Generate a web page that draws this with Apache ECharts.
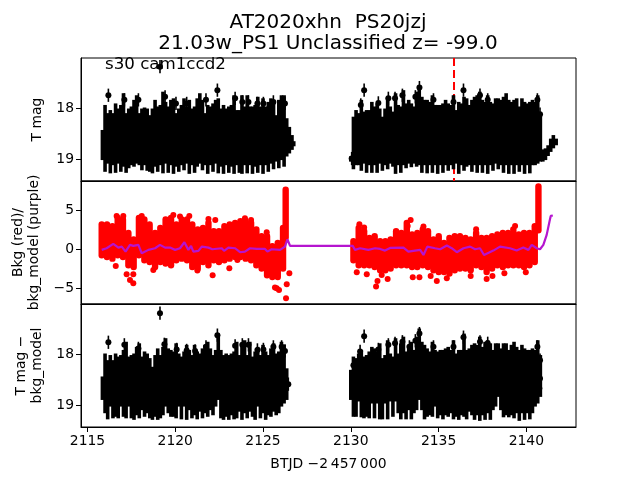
<!DOCTYPE html>
<html><head><meta charset="utf-8">
<style>html,body{margin:0;padding:0;background:#fff}#c{width:640px;height:480px}</style>
<script src="https://cdn.jsdelivr.net/npm/echarts@6/dist/echarts.min.js"></script>
</head><body><div id="c"></div>
<script>
const titleText = "AT2020xhn  PS20jzj\n21.03w_PS1 Unclassified z= -99.0";
const noteText = "s30 cam1ccd2";
const xLabel = "BTJD \u22122\u2009457\u2009000";
const xTicks = [2115,2120,2125,2130,2135,2140];
const magTicks = [18,19];
const bkgTicks = [5,0,-5];
const markerTime = 2135.88;

const timesA = [2115.85,2116,2116.15,2116.3,2116.45,2116.6,2116.75,2116.9,2117.05,2117.2,2117.35,2117.5,2117.65,2117.8,2117.95,2118.1,2118.25,2118.4,2118.55,2118.7,2118.85,2119,2119.15,2119.3,2119.45,2119.6,2119.75,2119.9,2120.05,2120.2,2120.35,2120.5,2120.65,2120.8,2120.95,2121.1,2121.25,2121.4,2121.55,2121.7,2121.85,2122,2122.15,2122.3,2122.45,2122.6,2122.75,2122.9,2123.05,2123.2,2123.35,2123.5,2123.65,2123.8,2123.95,2124.1,2124.25,2124.4,2124.55,2124.7,2124.85,2125,2125.15,2125.3,2125.45,2125.6,2125.75,2125.9,2126.05,2126.2,2126.35,2126.5,2126.65,2126.75];
const timesB = [2130,2130.15,2130.3,2130.45,2130.6,2130.75,2130.9,2131.05,2131.2,2131.35,2131.5,2131.65,2131.8,2131.95,2132.1,2132.25,2132.4,2132.55,2132.7,2132.85,2133,2133.15,2133.3,2133.45,2133.6,2133.75,2133.9,2134.05,2134.2,2134.35,2134.5,2134.65,2134.8,2134.95,2135.1,2135.25,2135.4,2135.55,2135.7,2135.85,2136,2136.15,2136.3,2136.45,2136.6,2136.75,2136.9,2137.05,2137.2,2137.35,2137.5,2137.65,2137.8,2137.95,2138.1,2138.25,2138.4,2138.55,2138.7,2138.85,2139,2139.15,2139.3,2139.45,2139.6,2139.75,2139.9,2140.05,2140.2,2140.35,2140.5,2140.65,2140.8,2140.94,2141.09,2141.24,2141.39,2141.54,2141.7];

const topHighA = [18.43,17.94,18.10,18.04,18.10,17.91,18.01,17.94,17.71,18.10,18.01,17.97,17.84,17.75,18.10,18.01,17.99,18.01,18.14,18.01,17.84,17.97,17.94,17.68,17.88,17.97,17.84,17.81,18.10,18.01,17.94,17.81,17.97,17.84,18.01,17.97,17.81,17.71,17.84,18.10,17.94,17.97,17.91,17.84,17.81,18.01,17.94,18.01,17.97,17.94,17.75,18.04,18.04,17.75,17.97,17.75,17.97,17.97,17.94,17.78,17.97,17.81,17.97,17.88,17.81,17.91,18.14,17.84,17.75,17.75,18.20,18.37,18.53,18.65];
const topLowA = [19.02,19.25,19.09,19.28,19.12,19.27,19.09,19.25,19.15,19.27,19.18,19.12,19.15,19.09,19.12,19.22,19.12,19.23,19.25,19.28,19.15,19.25,19.12,19.28,19.09,19.27,19.12,19.29,19.15,19.25,19.12,19.22,19.09,19.29,19.12,19.27,19.15,19.09,19.22,19.12,19.29,19.12,19.25,19.09,19.28,19.15,19.29,19.12,19.27,19.15,19.29,19.12,19.27,19.29,19.12,19.28,19.12,19.29,19.15,19.27,19.12,19.29,19.12,19.25,19.09,19.20,19.05,19.18,19.02,19.15,18.95,18.89,18.82,18.75];
const topHighB = [18.95,18.17,18.04,18.10,17.84,18.07,18.04,18.04,17.88,17.97,17.91,18.01,18.17,18.01,17.78,17.97,18.07,17.71,17.94,17.97,17.65,17.91,17.84,17.91,17.97,17.68,17.58,17.78,17.84,17.84,17.88,17.75,17.94,17.94,17.94,17.91,17.84,17.91,17.94,17.75,18.04,17.88,17.91,17.78,17.81,17.94,17.84,17.78,17.75,17.68,17.84,17.88,17.75,17.88,17.91,17.81,17.81,17.84,17.78,17.71,17.84,17.88,17.84,17.81,17.97,17.81,17.88,17.91,17.88,17.84,17.88,17.75,18.10,18.81,18.79,18.73,18.60,18.53,18.60];
const topLowB = [19.05,19.20,19.12,19.12,19.23,19.09,19.27,19.12,19.27,19.12,19.27,19.09,19.23,19.12,19.20,19.09,19.15,19.29,19.12,19.27,19.12,19.18,19.09,19.16,19.09,19.15,19.12,19.27,19.12,19.28,19.12,19.27,19.12,19.29,19.12,19.27,19.12,19.23,19.12,19.20,19.09,19.29,19.12,19.23,19.15,19.12,19.25,19.12,19.27,19.12,19.27,19.12,19.29,19.12,19.23,19.09,19.20,19.12,19.27,19.12,19.29,19.12,19.29,19.12,19.25,19.12,19.29,19.12,19.28,19.12,19.12,19.09,19.05,19.05,19.02,18.94,18.86,18.79,18.73];

const bottomHighA = [18.44,17.99,18.12,18.02,18.12,17.99,18.05,18.02,17.92,17.76,18.05,18.02,17.99,17.86,17.79,18.05,17.95,17.99,18.08,18.25,18.02,17.89,18.02,17.86,17.69,17.89,17.92,17.95,17.79,17.99,18.05,17.95,17.82,17.92,18.02,17.82,17.95,17.99,17.89,17.82,17.76,17.89,18.02,17.92,17.60,17.92,18.02,17.99,18.02,17.99,17.95,17.76,18.02,17.82,17.73,18.02,17.76,18.05,17.95,17.86,18.02,17.82,17.95,18.02,17.89,17.79,17.99,17.95,17.76,17.82,18.28];
const bottomLowA = [18.90,19.16,19.28,19.03,19.26,19.23,19.26,19.03,19.23,19.26,19.03,19.26,19.29,19.20,19.26,19.10,19.23,19.16,19.26,19.29,19.23,19.29,19.26,19.20,19.03,19.16,19.23,19.23,19.26,19.03,19.28,19.03,19.29,19.10,19.26,19.20,19.28,19.13,19.26,19.16,19.23,19.10,19.20,19.03,18.90,19.26,19.29,19.23,19.29,19.20,19.28,19.26,19.13,19.29,19.16,19.26,19.13,19.23,19.29,19.03,19.26,19.16,19.29,19.20,19.23,19.13,19.20,19.16,19.03,18.97,18.90];
const bottomHighB = [18.31,18.05,18.08,17.99,17.92,18.05,18.02,17.95,17.86,17.89,17.95,17.79,18.08,18.02,17.73,17.99,18.05,17.69,17.99,17.79,17.66,17.95,17.82,17.76,17.92,17.66,17.50,17.76,17.82,17.89,17.95,17.76,17.92,17.95,17.92,17.92,17.89,17.86,17.92,17.73,17.99,17.92,17.92,17.60,17.92,17.89,17.82,17.79,17.82,17.66,17.86,17.76,17.73,17.79,17.92,17.79,17.79,17.89,17.79,17.79,17.92,17.82,17.76,17.86,17.92,17.82,17.89,17.92,17.92,17.89,17.92,17.73,18.02];
const bottomLowB = [18.90,19.23,19.23,18.93,19.24,19.26,19.23,19.26,18.97,19.26,18.97,19.28,19.28,18.97,19.28,18.93,19.23,18.93,19.16,19.28,19.16,19.28,19.10,19.28,19.16,19.10,18.90,19.10,19.28,19.23,19.20,19.23,19.03,19.26,19.20,19.28,19.20,19.23,19.16,19.28,19.23,19.29,19.20,19.23,19.28,19.13,19.20,19.29,19.20,19.31,19.20,19.29,19.16,19.29,19.10,19.03,18.84,19.10,19.24,19.20,19.24,19.20,19.26,19.16,19.31,19.16,19.29,19.16,19.28,19.16,19.03,18.97,18.84];

const peakTimesTop = [2116.19,2119.13,2122.4,2117.1,2117.9,2119.42,2120.04,2120.65,2121.75,2123.41,2123.82,2124.17,2124.68,2125.02,2125.59,2126.06,2126.25,2130.76,2130.57,2131.57,2132.14,2132.52,2132.94,2133.68,2133.91,2134.71,2135.85,2136.42,2137.36,2137.8,2140.63,2140.78,2130.05];
const peakMagsTop = [17.75,17.19,17.65,17.84,17.84,17.78,17.91,17.91,17.84,17.81,17.88,17.88,17.91,17.91,17.88,17.91,17.91,17.65,17.94,17.9,17.81,17.81,17.75,17.78,17.6,17.84,17.88,17.65,17.75,17.84,17.84,18.12,18.99];
const peakTimesBottom = [2116.19,2119.13,2122.4,2117.1,2117.9,2119.38,2120.08,2120.65,2121.13,2121.75,2123.41,2123.82,2124.17,2124.68,2125.02,2125.59,2126.06,2126.25,2126.44,2130.76,2130.53,2131.57,2132.14,2132.52,2132.94,2133.34,2133.68,2133.91,2134.71,2135.85,2136.42,2137.36,2137.8,2140.63,2140.78,2130.15,2140.78,2140.74];
const peakMagsBottom = [17.77,17.2,17.63,17.82,17.89,17.81,17.91,17.93,17.94,17.86,17.84,17.82,17.82,17.92,17.91,17.86,17.86,17.94,18.59,17.65,17.95,17.91,17.82,17.79,17.76,17.86,17.74,17.6,17.86,17.86,17.67,17.76,17.79,17.86,18.12,18.22,18.48,18.67];
const peakErr = 0.13;

const bkgTimes = [2115.81,2116.11,2116.42,2116.72,2117.02,2117.33,2117.63,2117.93,2118.24,2118.54,2118.85,2119.15,2119.45,2119.76,2120.06,2120.37,2120.67,2120.97,2121.28,2121.58,2121.89,2122.19,2122.49,2122.8,2123.1,2123.41,2123.71,2124.01,2124.32,2124.62,2124.92,2125.23,2125.53,2125.84,2126.14,2126.29,
 2130.15,2130.45,2130.76,2131.06,2131.36,2131.67,2131.97,2132.27,2132.58,2132.88,2133.19,2133.49,2133.79,2134.1,2134.4,2134.71,2135.01,2135.31,2135.62,2135.92,2136.22,2136.53,2136.83,2137.14,2137.44,2137.74,2138.05,2138.35,2138.66,2138.96,2139.26,2139.57,2139.87,2140.18,2140.48,2140.69];
const bkgHigh = [3.13,3.13,2.91,3.98,3.77,2.06,1.21,3.98,3.77,3.13,2.06,2.7,3.77,3.98,3.13,3.77,3.77,3.13,2.49,2.7,3.34,2.27,2.27,2.91,3.13,3.34,3.56,3.56,3.34,2.49,1.63,1.63,0.35,0.78,2.7,7.57,
 0.99,2.7,2.27,1.42,1.63,0.99,0.99,1.21,2.27,2.06,3.34,1.85,2.06,2.49,2.27,1.21,1.63,0.78,1.42,1.63,1.63,1.42,1.21,2.06,1.42,1.42,1.63,1.85,2.06,2.06,2.49,1.85,2.06,2.06,2.91,8.0];
const bkgLow = [-0.81,-1.03,-1.24,-0.81,-1.03,-2.09,-2.31,-0.81,-1.45,-1.67,-2.31,-1.67,-1.88,-2.09,-1.45,-1.24,-1.45,-2.31,-2.52,-1.67,-2.09,-1.45,-1.67,-1.45,-1.24,-1.03,-1.03,-1.24,-1.45,-2.09,-2.52,-3.38,-3.59,-3.59,-2.52,1.5,
 -1.45,-2.09,-2.09,-2.09,-2.31,-2.74,-2.74,-2.52,-2.09,-2.09,-2.09,-2.31,-2.31,-2.09,-2.31,-2.74,-2.95,-2.95,-3.16,-2.74,-2.52,-2.52,-2.74,-2.09,-2.31,-2.95,-2.52,-2.09,-2.31,-2.09,-2.09,-2.09,-2.31,-2.09,-1.67,2.4];
const strayTimes = [2116.61,2117.23,2117.61,2117.42,2117.61,2116.66,2117.04,2118.09,2119.89,2120.27,2120.8,2121.89,2122.28,2118.75,2122.13,2123.08,2121.26,2123.54,2123.97,2124.32,2125.21,2126.5,2126.35,2126.31,2125.78,2125.91,2125.68,
 2130.34,2130.91,2131.52,2131.44,2131.76,2132.1,2133.53,2133.91,2134.55,2134.9,2135.47,2136.83,2137.74,2138.07,2138.75,2139.97,2130.49,2130.76,2133.41,2133.24,2134.14,2137.14,2139.36];
const strayBkg = [-2.18,-3.24,-3.24,-3.97,-4.4,4.23,4.23,4.23,4.36,4.15,4.23,3.85,3.72,-2.69,-3.37,-2.47,-2.77,-1.41,3.94,3.72,2.14,-3.12,-4.53,-6.32,-5.04,-5.25,-4.95,
 -2.99,-3.24,-4.1,-4.82,-3.33,-3.84,-3.63,-3.63,-3.46,-4.1,-3.76,-3.46,-3.84,-3.46,-3.12,-2.99,3.17,2.74,3.72,2.95,2.87,2.53,2.95];
const modelTimes = [2115.81,2116.09,2116.47,2116.76,2116.95,2117.17,2117.42,2117.61,2117.9,2118.09,2118.47,2118.85,2119.13,2119.42,2119.7,2119.99,2120.27,2120.52,2120.75,2120.9,2121.03,2121.32,2121.51,2121.89,2122.11,2122.65,2122.78,2123.03,2123.41,2123.69,2123.97,2124.26,2124.64,2125.11,2125.25,2125.49,2125.97,2126.25,2126.39,2126.54,
 2130.11,2130.24,2130.53,2131,2131.38,2131.67,2131.95,2132.24,2133,2133.28,2133.66,2133.95,2134.14,2134.36,2134.8,2135.09,2135.47,2135.75,2136.04,2136.42,2136.8,2137.08,2137.36,2137.59,2138.12,2138.5,2139.07,2139.45,2139.83,2140.12,2140.31,2140.59,2140.78,2140.97,2141.16,2141.32,2141.39,2141.51];
const modelVals = [-0.12,0.09,0.64,0.17,0.30,-0.34,0.52,0.39,0.52,-0.55,-0.12,0.09,0.52,0.17,0.17,-0.12,0.09,0.86,-0.12,0.39,-0.34,-0.25,0.30,0.17,-0.04,0.09,-0.25,0.17,0.09,-0.42,-0.34,0.09,0,0,-0.34,-0.04,-0.12,0.30,1.24,0.39,
 0.39,-0.12,0.09,-0.12,0.09,0,-0.21,0.13,0.17,-0.34,-0.21,-0.12,-0.77,0.30,0.09,-0.04,0.43,0.09,-0.42,0.09,0.30,-0.04,0.09,-0.77,-0.21,0.30,0.09,-0.21,0.17,-0.12,0.52,0.09,-0.04,0.52,1.80,3.51,4.23,4.28];

const zip3 = (a,b,c)=>a.map((v,i)=>[v,b[i],c[i]]);
const columnsTop = zip3(timesA,topHighA,topLowA).concat(zip3(timesB,topHighB,topLowB));
const columnsBottom = zip3(timesA,bottomHighA,bottomLowA).concat(zip3(timesB,bottomHighB,bottomLowB));

const BLACK='#000', RED='#ff0000', VIOLET='#b514cf';
const fontFamily='"DejaVu Sans"';

function bandSeries(name,idx,data,color,width,cap){
  return {name,type:'custom',xAxisIndex:idx,yAxisIndex:idx,clip:true,silent:true,z:3,
    encode:{x:0,y:[1,2]},data,
    renderItem(p,api){
      const a=api.coord([api.value(0),api.value(1)]), b=api.coord([api.value(0),api.value(2)]);
      return {type:'line',shape:{x1:a[0],y1:a[1],x2:b[0],y2:b[1]},style:{stroke:color,lineWidth:width,lineCap:cap}};
    }};
}
function peakSeries(name,idx,times,mags){
  return {name,type:'custom',xAxisIndex:idx,yAxisIndex:idx,clip:true,silent:true,z:4,
    encode:{x:0,y:1},data:times.map((t,i)=>[t,mags[i]]),
    renderItem(p,api){
      const a=api.coord([api.value(0),api.value(1)-peakErr]), b=api.coord([api.value(0),api.value(1)+peakErr]), c=api.coord([api.value(0),api.value(1)]);
      return {type:'group',children:[
        {type:'line',shape:{x1:a[0],y1:a[1],x2:b[0],y2:b[1]},style:{stroke:BLACK,lineWidth:1.6}},
        {type:'circle',shape:{cx:c[0],cy:c[1],r:3},style:{fill:BLACK}}
      ]};
    }};
}
const L=81,W=495,H=123,tops=[58,181,304];
const xMin=2114.63,xMax=2142.83;
const yRanges=[[17.02,19.43],[-7.05,8.7],[17.02,19.43]];
const yTicks=[magTicks,bkgTicks,magTicks];
const yNames=['T mag','Bkg (red)/\nbkg_model (purple)','T mag \u2212\nbkg_model'];
const yGaps=[33,33,33];
const txt={color:'#000',fontFamily,fontSize:13.9};

const opt={
  animation:false,backgroundColor:'#fff',
  title:{text:titleText,left:323,top:7,textAlign:'center',
    textStyle:{fontFamily,fontSize:20,fontWeight:'normal',color:'#000',lineHeight:21}},
  grid:tops.map(t=>({left:L,top:t,width:W,height:H,show:true,borderColor:'#000',borderWidth:1,backgroundColor:'transparent',containLabel:false})),
  xAxis:[0,1,2].map(i=>({type:'value',gridIndex:i,min:xMin,max:xMax,splitLine:{show:false},
    axisLine:{show:true,onZero:false,lineStyle:{color:'#000',width:1}},
    axisTick:{show:i===2,length:5,customValues:xTicks,lineStyle:{color:'#000',width:1}},
    axisLabel:{show:i===2,customValues:xTicks,margin:7,formatter:v=>String(v),...txt},
    name:i===2?xLabel:'',nameLocation:'middle',nameGap:30,nameTextStyle:{...txt}})),
  yAxis:[0,1,2].map(i=>({type:'value',gridIndex:i,min:yRanges[i][0],max:yRanges[i][1],inverse:i!==1,
    splitLine:{show:false},
    axisLine:{show:true,onZero:false,lineStyle:{color:'#000',width:1}},
    axisTick:{show:true,length:5,customValues:yTicks[i],lineStyle:{color:'#000',width:1}},
    axisLabel:{customValues:yTicks[i],margin:7,formatter:v=>String(v).replace('-','\u2212'),...txt},
    name:yNames[i],nameLocation:'middle',nameRotate:90,nameGap:yGaps[i],nameTextStyle:{...txt,lineHeight:16}})),
  graphic:[{type:'text',left:105,top:56,z:20,style:{text:noteText,font:'16.67px "DejaVu Sans"',fill:'#000'}}],
  series:[
    {name:'sector marker',type:'line',xAxisIndex:0,yAxisIndex:0,z:2,symbol:'none',silent:true,
      data:[[markerTime,yRanges[0][0]],[markerTime,yRanges[0][1]]],lineStyle:{color:RED,width:2,type:[8,4]}},
    bandSeries('T mag',0,columnsTop,BLACK,3.6,'butt'),
    peakSeries('T mag peaks',0,peakTimesTop,peakMagsTop),
    bandSeries('Bkg',1,zip3(bkgTimes,bkgHigh,bkgLow),RED,6.4,'round'),
    {name:'Bkg stray',type:'scatter',xAxisIndex:1,yAxisIndex:1,z:3,symbolSize:6,silent:true,
      itemStyle:{color:RED,opacity:1},data:strayTimes.map((t,i)=>[t,strayBkg[i]])},
    {name:'bkg_model',type:'line',xAxisIndex:1,yAxisIndex:1,z:5,symbol:'none',silent:true,
      data:modelTimes.map((t,i)=>[t,modelVals[i]]),lineStyle:{color:VIOLET,width:2.2}},
    bandSeries('T mag - model',2,columnsBottom,BLACK,3.6,'butt'),
    peakSeries('T mag - model peaks',2,peakTimesBottom,peakMagsBottom)
  ]
};
echarts.init(document.getElementById('c'),null,{renderer:'canvas'}).setOption(opt);
</script></body></html>
